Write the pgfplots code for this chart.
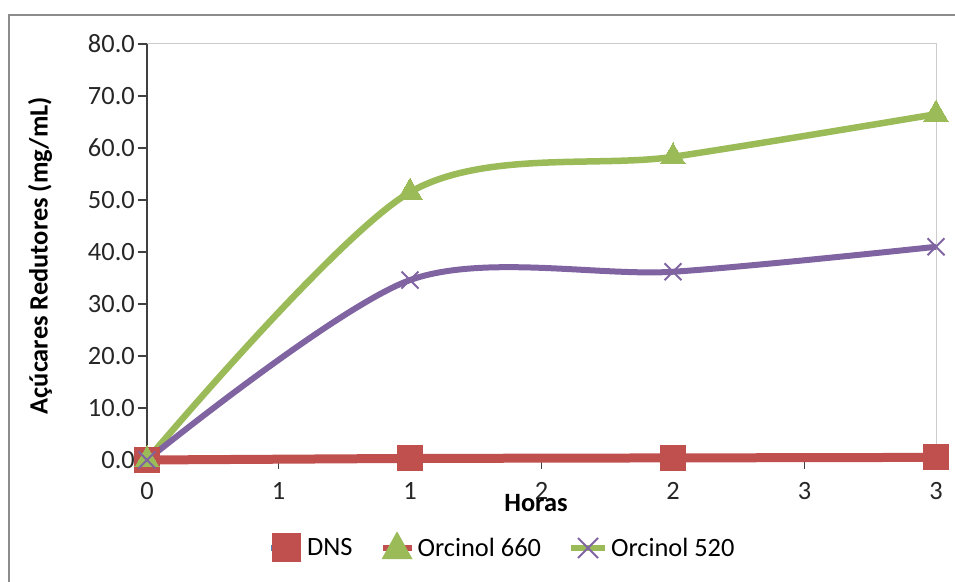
\documentclass[border=0pt]{standalone}
\usepackage{pgfplots}
\pgfplotsset{compat=1.18}
\usepackage{fontspec}
\setmainfont{Carlito}
\definecolor{xlblue}{HTML}{4F81BD}
\definecolor{xlred}{HTML}{C0504D}
\definecolor{xlgreen}{HTML}{9BBB59}
\definecolor{xlpurple}{HTML}{8064A2}
\definecolor{axgray}{HTML}{404040}
\begin{document}
\begin{tikzpicture}[x=1bp,y=1bp]
\path[use as bounding box] (0,0) rectangle (955,582);
\draw[line width=1.5bp, color=black!45] (9,-20) rectangle (975,567);
\begin{axis}[
  at={(147bp,122bp)}, anchor=south west,
  scale only axis, width=789bp, height=416bp,
  xmin=0, xmax=3, ymin=0, ymax=80,
  axis lines*=left,
  axis line style={color=axgray, line width=1.3bp},
  x axis line style={draw=none},
  tick align=outside, major tick length=9bp,
  tick style={color=axgray, line width=1.3bp},
  xtick={0,0.5,1,1.5,2,2.5,3},
  xticklabels={0,1,1,2,2,3,3},
  ytick={0,10,20,30,40,50,60,70,80},
  yticklabel style={/pgf/number format/fixed, /pgf/number format/fixed zerofill, /pgf/number format/precision=1},
  /pgf/number format/assume math mode=true,
  ticklabel style={font=\fontsize{26.5}{31}\selectfont, color=black!85},
  xticklabel style={inner sep=3bp, yshift=-10bp},
  yticklabel style={inner sep=3bp},
  xlabel={\textbf{Horas}},
  xlabel style={at={(rel axis cs:0.493,-0.103)}, anchor=center, font=\fontsize{26.5}{31}\selectfont},
  ylabel={\textbf{Açúcares Redutores (mg/mL)}},
  ylabel style={at={(rel axis cs:-0.1356,0.4915)}, anchor=center, rotate=0, font=\fontsize{26.5}{31}\selectfont},
  clip=false,
  legend columns=3,
  legend style={draw=none, fill=none, at={(rel axis cs:0.451,-0.2115)}, anchor=center,
    font=\fontsize{26.5}{31}\selectfont, nodes={inner xsep=3bp, inner ysep=2bp},
    /tikz/every even column/.append style={column sep=24bp}},
]
\draw[color=black!20, line width=1bp] (rel axis cs:0,1) -- (rel axis cs:1,1) -- (rel axis cs:1,0);
\addplot[color=xlred, line width=9bp, mark=square*, mark size=12.5bp,
  mark options={fill=xlred, draw=xlred, line width=0bp},
  legend image code/.code={
    \draw[xlblue, line width=6bp] (0bp,0bp) -- (30bp,0bp);
    \fill[xlred] (5bp,-10bp) rectangle (25bp,10bp);
  }]
  coordinates {(0,0) (1,0.3) (2,0.4) (3,0.5)};
\addlegendentry{DNS}
\addplot[color=xlgreen, line width=6.5bp, smooth, mark=triangle*, mark size=14bp,
  mark options={fill=xlgreen, draw=xlgreen, line width=0bp},
  legend image code/.code={
    \draw[xlred, line width=6bp] (0bp,0bp) -- (29bp,0bp);
    \fill[xlgreen] (4.5bp,-8bp) -- (24.5bp,-8bp) -- (14.5bp,10bp) -- cycle;
  }]
  coordinates {(0,0) (1,51.5) (2,58.3) (3,66.5)};
\addlegendentry{Orcinol 660}
\addplot[color=xlpurple, line width=6bp, smooth, mark=x, mark size=12bp,
  mark options={draw=xlpurple, line width=2bp},
  legend image code/.code={
    \draw[xlgreen, line width=6bp] (0bp,0bp) -- (34bp,0bp);
    \draw[xlpurple, line width=2bp] (7bp,-10bp) -- (27bp,10bp) (7bp,10bp) -- (27bp,-10bp);
  }]
  coordinates {(0,0) (1,34.6) (2,36.2) (3,41.0)};
\addlegendentry{Orcinol 520}
\end{axis}
\end{tikzpicture}
\end{document}
